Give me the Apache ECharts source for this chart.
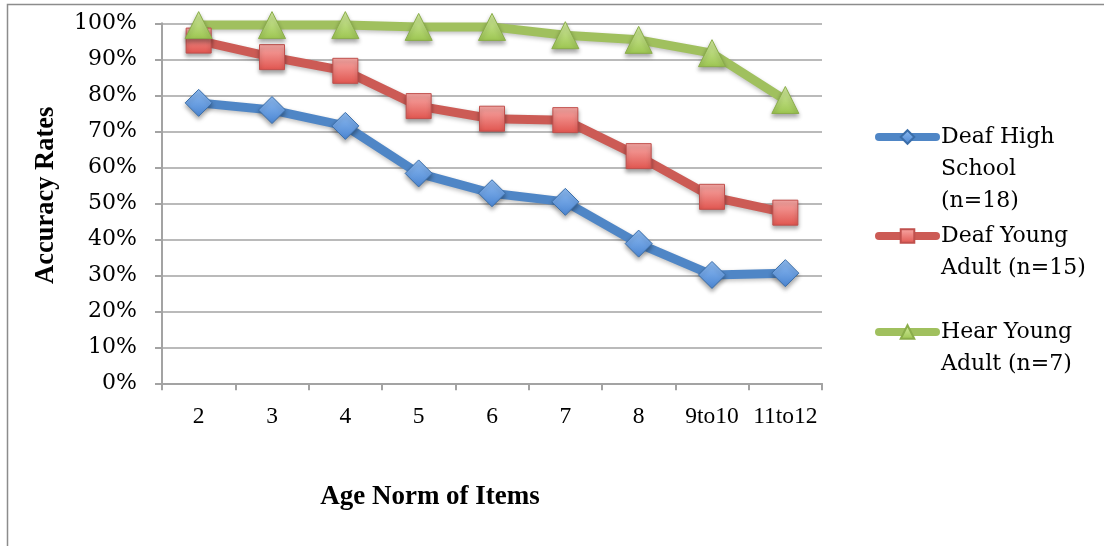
<!DOCTYPE html>
<html>
<head>
<meta charset="utf-8">
<title>Accuracy Rates by Age Norm of Items</title>
<script src="https://cdn.jsdelivr.net/npm/echarts@6/dist/echarts.min.js"></script>
<style>
  html, body { margin: 0; padding: 0; background: #ffffff; }
  #chart { width: 1104px; height: 546px; }
</style>
</head>
<body>
<div id="chart"></div>
<script>
// Age norm groups of the test items
const categories = ['2', '3', '4', '5', '6', '7', '8', '9to10', '11to12'];

// Accuracy rates (fraction correct) per group
const deafHighSchool = [0.779, 0.759, 0.715, 0.583, 0.528, 0.504, 0.388, 0.301, 0.306];
const deafYoungAdult = [0.952, 0.906, 0.868, 0.770, 0.735, 0.731, 0.631, 0.518, 0.474];
const hearYoungAdult = [0.995, 0.995, 0.995, 0.990, 0.990, 0.967, 0.954, 0.917, 0.787];

// Series names and the wrapped lines shown in the legend
const seriesNames = ['Deaf High School (n=18)', 'Deaf Young Adult (n=15)', 'Hear Young Adult (n=7)'];
const legendLines = [['Deaf High', 'School', '(n=18)'], ['Deaf Young', 'Adult (n=15)'], ['Hear Young', 'Adult (n=7)']];

// Y axis range and step
const yMin = 0, yMax = 1, yStep = 0.1;

const chart = echarts.init(document.getElementById('chart'), null, { renderer: 'canvas' });

const serifFont = 'DejaVu Serif';
const narrowSerif = 'Liberation Serif';
const gridGray = '#a3a3a3';

function grad(top, bottom) {
  return new echarts.graphic.LinearGradient(0, 0, 0, 1, [
    { offset: 0, color: top },
    { offset: 1, color: bottom }
  ]);
}

function lineSeries(name, data, lineColor, symbol, size, fillTop, fillBottom, border) {
  return {
    name: name,
    type: 'line',
    data: data,
    symbol: symbol,
    symbolSize: size,
    showSymbol: true,
    z: 3,
    lineStyle: {
      color: lineColor,
      width: 9,
      cap: 'round',
      join: 'round',
      shadowColor: 'rgba(0,0,0,0.25)',
      shadowBlur: 4,
      shadowOffsetY: 2
    },
    itemStyle: {
      color: grad(fillTop, fillBottom),
      borderColor: border,
      borderWidth: 1,
      shadowColor: 'rgba(0,0,0,0.35)',
      shadowBlur: 4,
      shadowOffsetY: 3
    },
    emphasis: { disabled: true }
  };
}

// The legend text is vertically centred on its icon, so blank lines are
// put in front to keep the icon level with the first line of the label.
function legendFor(i, top) {
  const lines = legendLines[i];
  const pad = new Array(lines.length - 1).fill('');
  const label = pad.concat(lines).join('\n');
  return {
    data: [seriesNames[i]],
    orient: 'vertical',
    left: 875,
    top: top,
    padding: 0,
    itemWidth: 57,
    itemHeight: 17,
    formatter: function () { return label; },
    selectedMode: false,
    lineStyle: { width: 8, cap: 'round' },
    textStyle: {
      fontFamily: serifFont,
      fontSize: 22,
      lineHeight: 32,
      color: '#000'
    }
  };
}

const option = {
  animation: false,
  backgroundColor: '#ffffff',
  grid: {
    left: 162,
    top: 23.3,
    right: 282,
    bottom: 162.7,
    containLabel: false
  },
  xAxis: {
    type: 'category',
    data: categories,
    boundaryGap: true,
    name: 'Age Norm of Items',
    nameLocation: 'middle',
    nameGap: 100,
    nameTextStyle: {
      fontFamily: narrowSerif,
      fontWeight: 'bold',
      fontSize: 27,
      color: '#000',
      padding: [0, 124, 0, 0]
    },
    axisLine: { show: true, lineStyle: { color: gridGray, width: 2 } },
    axisTick: { show: true, interval: 0, alignWithLabel: false, length: 7, lineStyle: { color: gridGray, width: 2 } },
    axisLabel: {
      interval: 0,
      margin: 22,
      fontFamily: narrowSerif,
      fontSize: 23.5,
      color: '#000'
    },
    splitLine: { show: false }
  },
  yAxis: {
    type: 'value',
    min: yMin,
    max: yMax,
    interval: yStep,
    name: 'Accuracy Rates',
    nameLocation: 'middle',
    nameGap: 102,
    nameRotate: 90,
    nameTextStyle: {
      fontFamily: narrowSerif,
      fontWeight: 'bold',
      fontSize: 26.5,
      color: '#000',
      padding: [0, 0, 0, 16]
    },
    axisLine: { show: true, lineStyle: { color: gridGray, width: 2 } },
    axisTick: { show: true, length: 7, lineStyle: { color: gridGray, width: 2 } },
    axisLabel: {
      margin: 25,
      fontFamily: serifFont,
      fontSize: 22,
      color: '#000',
      formatter: function (v) { return Math.round(v * 100) + '%'; }
    },
    splitLine: { show: true, lineStyle: { color: gridGray, width: 1.6 } }
  },
  legend: [
    legendFor(0, 57),
    legendFor(1, 188),
    legendFor(2, 284)
  ],
  series: [
    lineSeries(seriesNames[0], deafHighSchool, '#4f86c6', 'diamond', 27, '#8fbcf2', '#4a85d2', '#3b6ea9'),
    lineSeries(seriesNames[1], deafYoungAdult, '#cc5b55', 'rect', 25, '#f8aaa7', '#e0554f', '#c0504d'),
    lineSeries(seriesNames[2], hearYoungAdult, '#a0c05e', 'triangle', 27, '#d6eea3', '#9cc551', '#8aad4a')
  ],
  graphic: [
    // Frame around the chart area (top and left edges)
    {
      type: 'polyline',
      silent: true,
      shape: { points: [[7.5, 546], [7.5, 4.5], [1104, 4.5]] },
      style: { stroke: '#8c8c8c', lineWidth: 1.5, fill: null }
    }
  ]
};

chart.setOption(option);
</script>
</body>
</html>
